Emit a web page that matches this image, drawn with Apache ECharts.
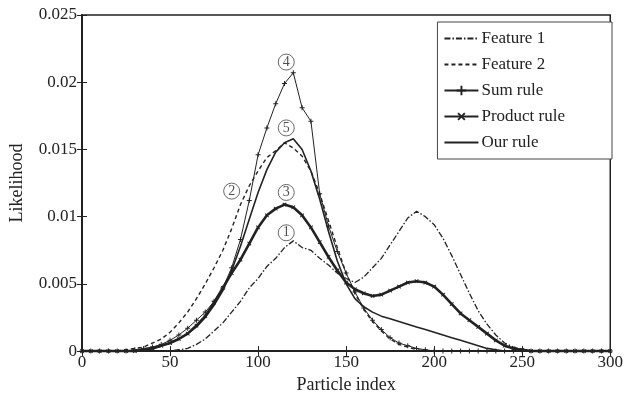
<!DOCTYPE html>
<html>
<head>
<meta charset="utf-8">
<script src="https://cdn.jsdelivr.net/npm/echarts@6/dist/echarts.min.js"></script>
<style>
  html, body { margin: 0; padding: 0; background: #fff; }
  #chart { width: 626px; height: 399px; }
</style>
</head>
<body>
<div id="chart"></div>
<script>
// particle index, sampled every 5
const particleIndex = [0,5,10,15,20,25,30,35,40,45,50,55,60,65,70,75,80,85,90,95,100,105,110,115,120,125,130,135,140,145,150,155,160,165,170,175,180,185,190,195,200,205,210,215,220,225,230,235,240,245,250,255,260,265,270,275,280,285,290,295,300];

const feature1 = [0,0,0,0,0,0,0,0,0,0,
  0,0.0001,0.0002,0.0005,0.0009,0.0015,0.0021,0.0029,0.0037,0.0047,
  0.0054,0.0063,0.0069,0.0077,0.0082,0.0077,0.0075,0.0069,0.0064,0.0058,
  0.0054,0.0051,0.0055,0.0062,0.0069,0.0079,0.0089,0.0099,0.0104,0.0100,
  0.0094,0.0084,0.0071,0.0057,0.0043,0.0030,0.0020,0.0012,0.0006,0.0003,
  0.0001,0,0,0,0,0,0,0,0,0,0];

const feature2 = [0,0,0,0,0,
  0.0001,0.0002,0.0003,0.0006,0.0009,0.0014,0.0021,0.0029,0.0039,0.0050,
  0.0062,0.0075,0.0091,0.0109,0.0123,0.0134,0.0144,0.0149,0.0155,0.0151,
  0.0145,0.0134,0.0117,0.0097,0.0077,0.0058,0.0043,0.0031,0.0022,0.0015,
  0.0009,0.0005,0.0003,0.0001,
  0,0,0,0,0,0,0,0,0,0,0,0,0,0,0,0,0,0,0,0,0,0];

const sumRule = [0,0,0,0,0,0,
  0.0001,0.0002,0.0003,0.0005,0.0008,0.0012,0.0017,0.0023,0.0029,0.0037,
  0.0047,0.0062,0.0083,0.0112,0.0146,0.0166,0.0184,0.0199,0.0207,0.0181,
  0.0171,0.0117,0.0093,0.0074,0.0058,0.0044,0.0032,0.0023,0.0016,0.0010,
  0.0006,0.0004,0.0002,0.0001,
  0,0,0,0,0,0,0,0,0,0,0,0,0,0,0,0,0,0,0,0,0];

const productRule = [0,0,0,0,0,0,0,
  0.0001,0.0002,0.0004,0.0006,0.0009,0.0013,0.0019,0.0026,0.0036,0.0047,
  0.0058,0.0068,0.0080,0.0092,0.0101,0.0106,0.0109,0.0107,0.0101,0.0092,
  0.0081,0.0070,0.0060,0.0051,0.0046,0.0043,0.0041,0.0042,0.0045,0.0048,
  0.0051,0.0052,0.0051,0.0048,0.0042,0.0035,0.0028,0.0023,0.0018,0.0013,
  0.0008,0.0004,0.0002,0.0001,
  0,0,0,0,0,0,0,0,0,0];

const ourRule = [0,0,0,0,0,0,0,
  0.0001,0.0002,0.0004,0.0006,0.0009,0.0013,0.0018,0.0025,0.0034,0.0045,
  0.0060,0.0078,0.0098,0.0118,0.0135,0.0148,0.0155,0.0158,0.0150,0.0134,
  0.0113,0.0089,0.0067,0.0050,0.0039,0.0033,0.0029,0.0026,0.0024,0.0022,
  0.0020,0.0018,0.0016,0.0014,0.0012,0.0010,0.0008,0.0006,0.0004,0.0002,
  0.0001,
  0,0,0,0,0,0,0,0,0,0,0,0,0];

// circled curve numbers
const markText = ['1','2','3','4','5'];
const markX = [116, 85, 116, 116, 116];
const markY = [0.0088, 0.0119, 0.0118, 0.0215, 0.0166];

const serif = 'Liberation Serif';
const pair = arr => particleIndex.map((x, i) => [x, arr[i]]);
const plus = 'path://M4,0h2v4h4v2h-4v4h-2v-4h-4v-2h4z';
const noMark = { opacity: 0 };

const chart = echarts.init(document.getElementById('chart'));
chart.setOption({
  animation: false,
  textStyle: { fontFamily: serif, color: '#222' },
  grid: { left: 80, right: 11, top: 15, bottom: 40, show: true, borderColor: '#222', borderWidth: 1.5 },
  legend: {
    orient: 'vertical', right: 14, top: 22,
    data: [
      { name: 'Feature 1', itemStyle: noMark },
      { name: 'Feature 2', itemStyle: noMark },
      { name: 'Sum rule' },
      { name: 'Product rule' },
      { name: 'Our rule', itemStyle: noMark }
    ],
    backgroundColor: '#fff', borderColor: '#444', borderWidth: 1,
    padding: [8, 47, 8, 6], itemGap: 9, itemWidth: 34, itemHeight: 12,
    textStyle: { fontFamily: serif, fontSize: 17, lineHeight: 17, color: '#222', padding: [0, 0, 0, -2] }
  },
  xAxis: [{
    type: 'value', min: 0, max: 300, interval: 50,
    name: 'Particle index', nameLocation: 'middle', nameGap: 17,
    nameTextStyle: { fontFamily: serif, fontSize: 18, color: '#222' },
    axisLine: { lineStyle: { color: '#222', width: 2 } },
    axisTick: { inside: true, length: 5, lineStyle: { color: '#222' } },
    axisLabel: { fontFamily: serif, fontSize: 17, color: '#222', margin: 3 },
    splitLine: { show: false }
  }, {
    type: 'value', position: 'top', min: 0, max: 300, interval: 50,
    axisLine: { lineStyle: { color: '#222', width: 1.5 } },
    axisTick: { inside: true, length: 5, lineStyle: { color: '#222' } },
    axisLabel: { show: false }, splitLine: { show: false }
  }],
  yAxis: [{
    type: 'value', min: 0, max: 0.025, interval: 0.005,
    name: 'Likelihood', nameLocation: 'middle', nameGap: 56,
    nameTextStyle: { fontFamily: serif, fontSize: 18, color: '#222' },
    axisLine: { show: true, lineStyle: { color: '#222', width: 2 } },
    axisTick: { show: true, inside: true, length: 5, lineStyle: { color: '#222' } },
    axisLabel: { fontFamily: serif, fontSize: 17, color: '#222', margin: 5 },
    splitLine: { show: false }
  }, {
    type: 'value', position: 'right', min: 0, max: 0.025, interval: 0.005,
    axisLine: { show: true, lineStyle: { color: '#222', width: 1.5 } },
    axisTick: { show: true, inside: true, length: 5, lineStyle: { color: '#222' } },
    axisLabel: { show: false }, splitLine: { show: false }
  }],
  series: [
    {
      name: 'Feature 1', type: 'line', data: pair(feature1), showSymbol: false, symbol: 'none',
      itemStyle: { color: '#222' },
      lineStyle: { color: '#222', width: 1.3, type: [6, 2, 1.5, 2] }
    },
    {
      name: 'Feature 2', type: 'line', data: pair(feature2), showSymbol: false, symbol: 'none',
      itemStyle: { color: '#222' },
      lineStyle: { color: '#222', width: 1.4, type: [4, 3] }
    },
    {
      name: 'Sum rule', type: 'line', data: pair(sumRule), symbol: plus, symbolSize: 5,
      itemStyle: { color: '#222' },
      lineStyle: { color: '#222', width: 1 }
    },
    {
      name: 'Product rule', type: 'line', data: pair(productRule), symbol: plus, symbolSize: 5, symbolRotate: 45,
      itemStyle: { color: '#222' },
      lineStyle: { color: '#222', width: 2.6 }
    },
    {
      name: 'Our rule', type: 'line', data: pair(ourRule), showSymbol: false, symbol: 'none',
      itemStyle: { color: '#222' },
      lineStyle: { color: '#222', width: 1.6 }
    },
    {
      name: 'marks', type: 'scatter', z: 10,
      data: markX.map((x, i) => [x, markY[i], markText[i]]),
      symbol: 'circle', symbolSize: 16,
      itemStyle: { color: '#fff', borderColor: '#444', borderWidth: 1 },
      label: {
        show: true, position: 'inside', formatter: p => p.value[2],
        fontFamily: serif, fontSize: 14, color: '#222'
      }
    }
  ]
});
</script>
</body>
</html>
